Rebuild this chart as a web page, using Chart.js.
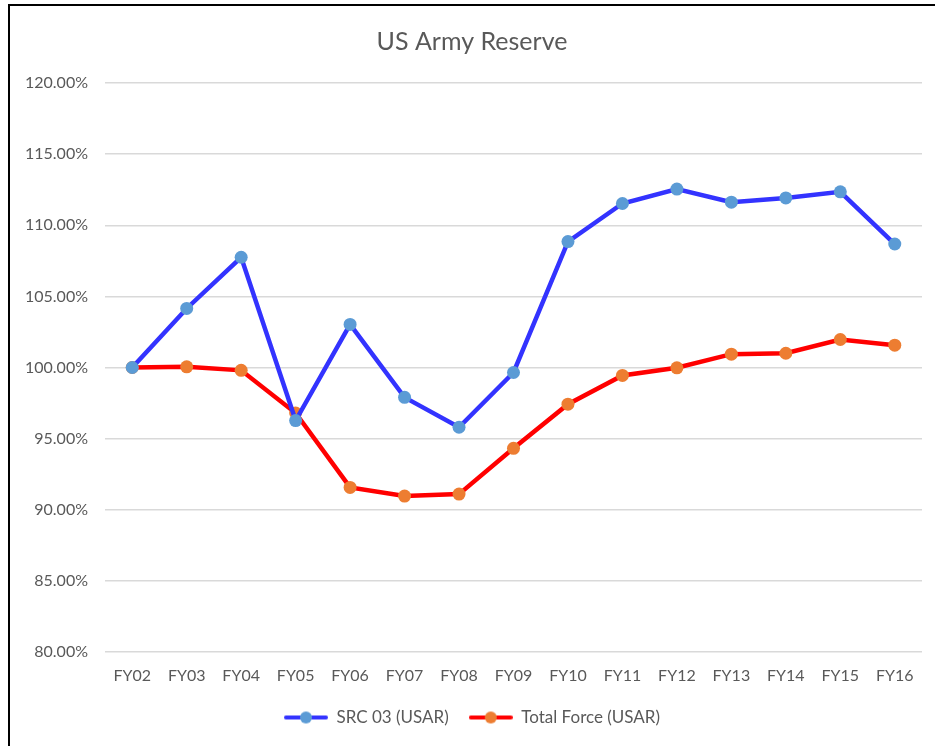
<!DOCTYPE html>
<html>
<head>
<meta charset="utf-8">
<script src="https://cdn.jsdelivr.net/npm/chart.js@4"></script>
<style>
  body { margin: 0; background: #fff; }
  #wrap { position: relative; width: 935px; height: 746px; }
  #frame { position: absolute; left: 8px; top: 4px; right: -10px; bottom: -10px;
           border-left: 2px solid #000; border-top: 2px solid #000; pointer-events: none; }
</style>
</head>
<body>
<div id="wrap">
  <canvas id="chart" width="935" height="746"></canvas>
  <div id="frame"></div>
</div>
<script>
var labels = ['FY02', 'FY03', 'FY04', 'FY05', 'FY06', 'FY07', 'FY08', 'FY09', 'FY10', 'FY11', 'FY12', 'FY13', 'FY14', 'FY15', 'FY16'];
var src03 = [100.0, 104.15, 107.75, 96.27, 103.03, 97.9, 95.8, 99.65, 108.85, 111.53, 112.54, 111.62, 111.92, 112.35, 108.68];
var totalForce = [100.0, 100.05, 99.8, 96.8, 91.57, 90.96, 91.1, 94.32, 97.42, 99.44, 99.98, 100.94, 101.0, 101.97, 101.57];

var FONT = 'Lato, "Open Sans", sans-serif';
var TEXT = '#595959';

// petite image "ligne + point" pour la légende, comme dans Excel
function legendMark(lineColor, dotColor) {
    var c = document.createElement('canvas');
    c.width = 44; c.height = 14;
    var g = c.getContext('2d');
    g.strokeStyle = lineColor;
    g.lineWidth = 4;
    g.lineCap = 'round';
    g.beginPath();
    g.moveTo(2, 7); g.lineTo(42, 7);
    g.stroke();
    g.fillStyle = dotColor;
    g.beginPath();
    g.arc(22, 7, 6, 0, Math.PI * 2);
    g.fill();
    return c;
}

var ctx = document.getElementById('chart').getContext('2d');
new Chart(ctx, {
    type: 'line',
    data: {
        labels: labels,
        datasets: [{
            label: 'SRC 03 (USAR)',
            data: src03,
            borderColor: '#3333ff',
            borderWidth: 4.5,
            pointBackgroundColor: '#5b9bd5',
            pointBorderColor: '#5b9bd5',
            pointRadius: 6.5,
            pointBorderWidth: 0,
            pointStyle: 'circle',
            tension: 0
        }, {
            label: 'Total Force (USAR)',
            data: totalForce,
            borderColor: '#ff0000',
            borderWidth: 4.5,
            pointBackgroundColor: '#ed7d31',
            pointBorderColor: '#ed7d31',
            pointRadius: 6.5,
            pointBorderWidth: 0,
            pointStyle: 'circle',
            tension: 0
        }]
    },
    options: {
        responsive: false,
        animation: false,
        layout: { padding: { left: 22, right: 13, top: 0, bottom: 10 } },
        scales: {
            x: {
                offset: true,
                grid: { display: false, drawTicks: false },
                border: { display: false },
                ticks: { color: TEXT, padding: 14, font: { family: FONT, size: 16 }, maxRotation: 0 },
                afterFit: function (s) { s.height = 37; }
            },
            y: {
                min: 80,
                max: 120,
                grid: { color: '#d9d9d9', lineWidth: 1.5, drawTicks: false },
                border: { display: false },
                ticks: {
                    stepSize: 5,
                    color: TEXT,
                    padding: 17,
                    font: { family: FONT, size: 16 },
                    callback: function (v) { return v.toFixed(2) + '%'; }
                },
                afterFit: function (s) { s.width = 83; }
            }
        },
        plugins: {
            title: {
                display: true,
                text: 'US Army Reserve',
                color: TEXT,
                font: { family: FONT, size: 25, weight: 'normal' },
                padding: { top: 27, bottom: 26 }
            },
            legend: {
                position: 'bottom',
                labels: {
                    color: TEXT,
                    font: { family: FONT, size: 17 },
                    usePointStyle: true,
                    pointStyleWidth: 44,
                    padding: 20,
                    generateLabels: function (chart) {
                        return chart.data.datasets.map(function (ds, i) {
                            return {
                                text: ds.label,
                                fontColor: TEXT,
                                pointStyle: legendMark(ds.borderColor, ds.pointBackgroundColor),
                                datasetIndex: i,
                                hidden: false,
                                lineWidth: 0
                            };
                        });
                    }
                }
            },
            tooltip: { enabled: false }
        }
    }
});
</script>
</body>
</html>
